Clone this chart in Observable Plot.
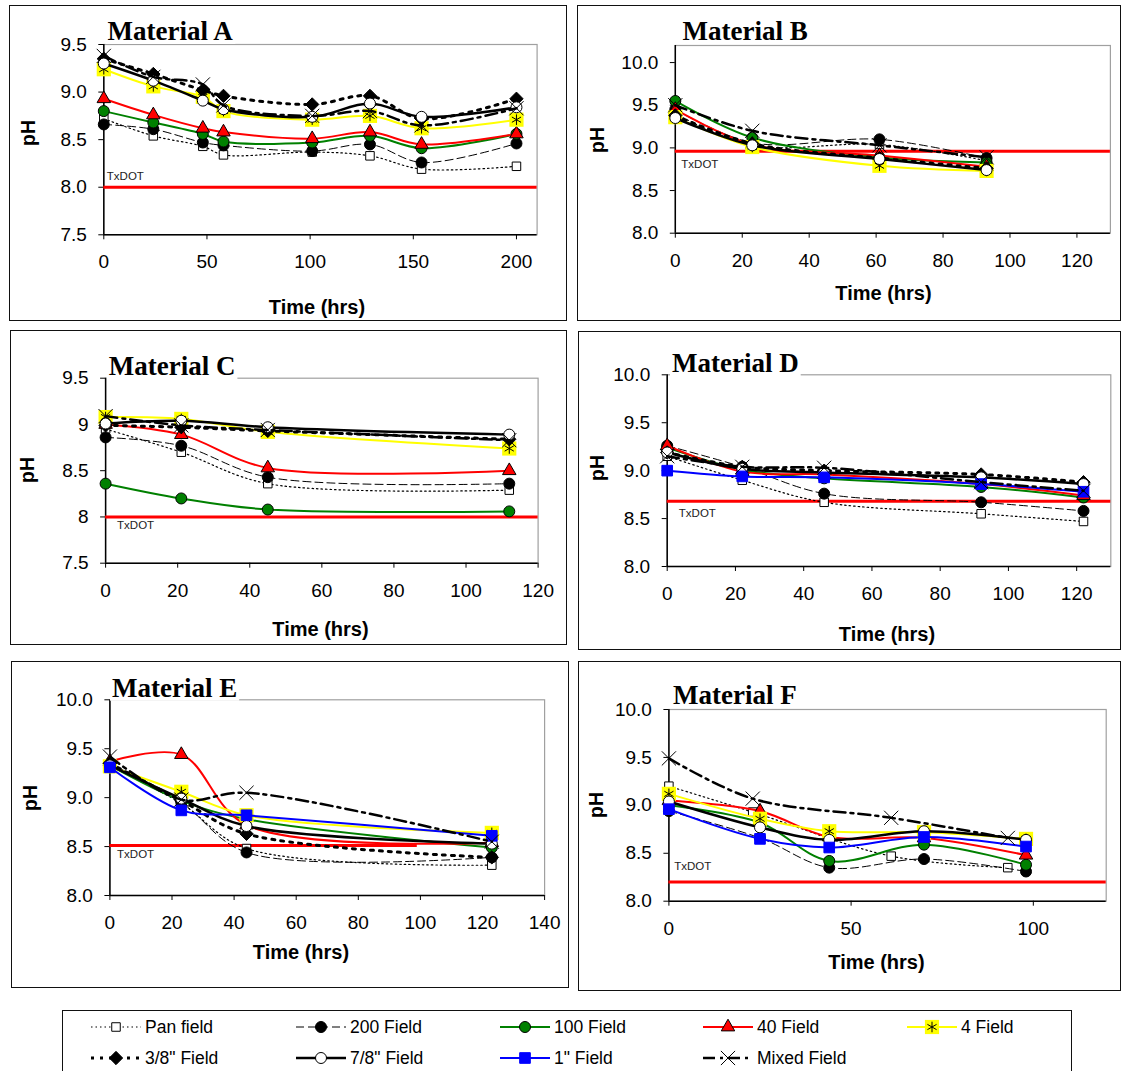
<!DOCTYPE html>
<html>
<head>
<meta charset="utf-8">
<script src="https://cdn.jsdelivr.net/npm/d3@7"></script>
<script src="https://cdn.jsdelivr.net/npm/@observablehq/plot@0.6"></script>
<style>
  html, body { margin: 0; padding: 0; background: #fff; }
  body { width: 1124px; height: 1071px; position: relative; overflow: hidden;
         font-family: "Liberation Sans", Arial, sans-serif; }
  .box { position: absolute; border: 1.5px solid #111; box-sizing: border-box; }
  .chart { position: absolute; }
  #overlay { position: absolute; left: 0; top: 0; }
  #legend { position: absolute; left: 62px; top: 1010px; width: 1010px; height: 70px;
            border: 1.5px solid #111; box-sizing: border-box; }
  .legend-item { position: absolute; height: 22px; display: flex; align-items: center;
                 font-size: 17.5px; color: #000; white-space: nowrap; }
</style>
</head>
<body>
<script>
// ---------- Series names (legend order) ----------
const seriesNames = ["Pan field", "200 Field", "100 Field", "40 Field", "4 Field",
  '3/8" Field', '7/8" Field', '1" Field', "Mixed Field"];

// ---------- Material A ----------
const hoursA = [0, 24, 48, 58, 101, 129, 154, 200];
const pHA = {
  "Pan field":   [8.72, 8.54, 8.43, 8.34, 8.37, 8.33, 8.19, 8.22],
  "200 Field":   [8.66, 8.61, 8.47, 8.44, 8.38, 8.45, 8.26, 8.46],
  "100 Field":   [8.80, 8.68, 8.56, 8.48, 8.47, 8.54, 8.41, 8.56],
  "40 Field":    [8.93, 8.76, 8.62, 8.58, 8.51, 8.58, 8.45, 8.56],
  "4 Field":     [9.24, 9.06, 8.95, 8.80, 8.71, 8.75, 8.62, 8.71],
  '3/8" Field':  [9.35, 9.19, 9.02, 8.96, 8.87, 8.96, 8.72, 8.93],
  '7/8" Field':  [9.30, 9.12, 8.91, 8.82, 8.74, 8.88, 8.74, 8.84],
  "Mixed Field": [9.38, 9.16, 9.08, 8.86, 8.75, 8.80, 8.65, 8.83]
};

// ---------- Material B ----------
const hoursB = [0, 23, 61, 93];
const pHB = {
  "Pan field":   [9.40, 9.03, 9.04, 8.85],
  "200 Field":   [9.45, 9.06, 9.10, 8.88],
  "100 Field":   [9.55, 9.12, 8.89, 8.83],
  "40 Field":    [9.45, 9.04, 8.91, 8.78],
  "4 Field":     [9.36, 9.01, 8.79, 8.73],
  '3/8" Field':  [9.38, 9.05, 8.88, 8.76],
  '7/8" Field':  [9.35, 9.03, 8.87, 8.74],
  "Mixed Field": [9.50, 9.20, 9.03, 8.89]
};

// ---------- Material C ----------
const hoursC = [0, 21, 45, 112];
const pHC = {
  "Pan field":   [8.95, 8.70, 8.36, 8.29],
  "200 Field":   [8.86, 8.77, 8.43, 8.36],
  "100 Field":   [8.36, 8.20, 8.08, 8.06],
  "40 Field":    [9.00, 8.89, 8.53, 8.50],
  "4 Field":     [9.08, 9.06, 8.92, 8.74],
  '3/8" Field':  [8.99, 8.97, 8.93, 8.84],
  '7/8" Field':  [9.01, 9.04, 8.97, 8.89],
  "Mixed Field": [9.09, 8.99, 8.94, 8.83]
};

// ---------- Material D ----------
const hoursD = [0, 22, 46, 92, 122];
const pHD = {
  "Pan field":   [9.15, 8.90, 8.67, 8.55, 8.47],
  "200 Field":   [9.26, 9.04, 8.76, 8.67, 8.58],
  "100 Field":   [9.24, 9.01, 8.92, 8.83, 8.72],
  "40 Field":    [9.26, 8.99, 8.96, 8.86, 8.74],
  '3/8" Field':  [9.19, 9.04, 9.00, 8.96, 8.88],
  '7/8" Field':  [9.19, 9.02, 8.98, 8.93, 8.86],
  '1" Field':    [9.00, 8.94, 8.93, 8.86, 8.78],
  "Mixed Field": [9.15, 9.04, 9.03, 8.88, 8.79]
};

// ---------- Material E ----------
const hoursE = [0, 23, 44, 123];
const pHE = {
  "Pan field":   [9.33, 8.94, 8.48, 8.31],
  "200 Field":   [9.35, 8.95, 8.44, 8.39],
  "100 Field":   [9.33, 8.97, 8.78, 8.49],
  "40 Field":    [9.37, 9.44, 8.72, 8.54],
  "4 Field":     [9.32, 9.06, 8.82, 8.64],
  '3/8" Field':  [9.35, 8.97, 8.63, 8.39],
  '7/8" Field':  [9.33, 8.99, 8.71, 8.53],
  '1" Field':    [9.31, 8.87, 8.82, 8.61],
  "Mixed Field": [9.42, 8.98, 9.05, 8.55]
};

// ---------- Material F ----------
const hoursF = [0, 25, 44, 70, 98];
const hoursF_panMixed = [0, 23, 61, 93];
const pHF = {
  "Pan field":   [9.20, 8.93, 8.47, 8.35],
  "200 Field":   [8.94, 8.66, 8.35, 8.44, 8.31],
  "100 Field":   [9.00, 8.82, 8.42, 8.59, 8.38],
  "40 Field":    [9.05, 8.94, 8.67, 8.66, 8.48],
  "4 Field":     [9.12, 8.86, 8.73, 8.72, 8.65],
  '7/8" Field':  [9.04, 8.77, 8.64, 8.73, 8.64],
  '1" Field':    [8.96, 8.65, 8.56, 8.67, 8.57],
  "Mixed Field": [9.49, 9.07, 8.87, 8.66]
};

// ---------- TxDOT reference level per material ----------
const txdotPH  = { A: 8.0, B: 8.96, C: 8.0, D: 8.68, E: 8.51, F: 8.2 };
const txdotEnd = { A: 210, B: 130, C: 120, D: 130, E: 99, F: 120 };

// ---------- Series styling ----------
const seriesStyle = {
  "Pan field":   { color: "#000", width: 1.2, dash: "1.5,3", symbol: "square", r: 4.8, fill: "#fff", ms: "#000" },
  "200 Field":   { color: "#000", width: 1, dash: "8,4", symbol: "circle", r: 5.5, fill: "#000", ms: "#000" },
  "100 Field":   { color: "#008000", width: 2, symbol: "circle", r: 5.5, fill: "#008000", ms: "#000" },
  "40 Field":    { color: "#ff0000", width: 2, symbol: "triangle", r: 5, fill: "#ff0000", ms: "#000" },
  "4 Field":     { color: "#ffff00", width: 2, symbol: "asterisk", r: 5, fill: "none", ms: "#000", box: "#ffff00", boxR: 8 },
  '3/8" Field':  { color: "#000", width: 3, dash: "3,6", symbol: "diamond2", r: 6, fill: "#000", ms: "#000" },
  '7/8" Field':  { color: "#000", width: 2.5, symbol: "circle", r: 5.5, fill: "#fff", ms: "#000" },
  '1" Field':    { color: "#0000ff", width: 2, symbol: "square", r: 6, fill: "#0000ff", ms: "#0000ff" },
  "Mixed Field": { color: "#000", width: 2.5, dash: "12,5,3,5", symbol: "times", r: 6.5, fill: "none", ms: "#000" }
};

// ---------- Panel layout ----------
const fmt1 = d3.format(".1f");
const panels = [
  { key: "A", title: "Material A", hours: hoursA, pH: pHA,
    box: [9, 5, 567, 321], frame: [103.3, 44, 536.6, 234.3],
    x: [0, 210], y: [7.5, 9.5], xTicks: [0, 50, 100, 150, 200], yTicks: [7.5, 8, 8.5, 9, 9.5], yFormat: fmt1,
    txDx: 3, txDy: -10.7, titleXY: [107.6, 40], phXY: [28, 133], timeXY: [317, 307] },
  { key: "B", title: "Material B", hours: hoursB, pH: pHB,
    box: [577, 5, 1121, 321], frame: [674.8, 45, 1109.9, 232.7],
    x: [0, 130], y: [8, 10.2], xTicks: d3.range(0, 121, 20), yTicks: [8, 8.5, 9, 9.5, 10], yFormat: fmt1,
    txDx: 6, txDy: 13, titleXY: [682.5, 40], phXY: [597, 140], timeXY: [883.5, 293] },
  { key: "C", title: "Material C", hours: hoursC, pH: pHC,
    box: [10, 330, 567, 645], frame: [105.1, 377.7, 537.6, 562.7],
    x: [0, 120], y: [7.5, 9.5], xTicks: d3.range(0, 121, 20), yTicks: [7.5, 8, 8.5, 9, 9.5], yFormat: d => String(d),
    txDx: 11.5, txDy: 8, titleXY: [108.7, 375], phXY: [27, 470], timeXY: [320.5, 629] },
  { key: "D", title: "Material D", hours: hoursD, pH: pHD,
    box: [578, 331, 1121, 650], frame: [666.7, 374.3, 1110.3, 566],
    x: [0, 130], y: [8, 10], xTicks: d3.range(0, 121, 20), yTicks: [8, 8.5, 9, 9.5, 10], yFormat: fmt1,
    txDx: 11.6, txDy: 12, titleXY: [672, 372], phXY: [597, 468], timeXY: [887, 634] },
  { key: "E", title: "Material E", hours: hoursE, pH: pHE,
    box: [11, 661, 569, 988], frame: [109.4, 699.3, 544.1, 895],
    x: [0, 140], y: [8, 10], xTicks: d3.range(0, 141, 20), yTicks: [8, 8.5, 9, 9.5, 10], yFormat: fmt1,
    txDx: 7.2, txDy: 9, titleXY: [112, 696.7], phXY: [30, 798], timeXY: [301, 951.7] },
  { key: "F", title: "Material F", hours: hoursF, pH: pHF,
    hoursBy: { "Pan field": hoursF_panMixed, "Mixed Field": hoursF_panMixed },
    box: [578, 661, 1121, 991], frame: [668.4, 709, 1105.7, 900.7],
    x: [0, 120], y: [8, 10], xTicks: [0, 50, 100], yTicks: [8, 8.5, 9, 9.5, 10], yFormat: fmt1,
    txDx: 5.3, txDy: -16, titleXY: [673, 704], phXY: [596, 805], timeXY: [876.5, 962] }
];

function drawPanel(p) {
  const [bx0, by0, bx1, by1] = p.box;
  const [fx0, fy0, fx1, fy1] = p.frame;
  const marks = [
    Plot.frame({ stroke: "#a0a0a0", strokeWidth: 1.2 }),
    Plot.ruleY([p.y[0]], { stroke: "#000", strokeWidth: 1.5 }),
    Plot.ruleX([p.x[0]], { stroke: "#000", strokeWidth: 1.5 }),
    Plot.axisX({ ticks: p.xTicks, tickSize: 5, tickPadding: 15, label: null, fontSize: 19 }),
    Plot.axisY({ ticks: p.yTicks, tickFormat: p.yFormat, tickSize: 5, tickPadding: 12, label: null, fontSize: 19 })
  ];

  // TxDOT reference line and its label
  const tx = [{ pH: txdotPH[p.key], from: p.x[0], to: txdotEnd[p.key] }];
  marks.push(Plot.ruleY(tx, { y: "pH", x1: "from", x2: "to", stroke: "#ff0000", strokeWidth: 3 }));
  marks.push(Plot.text(tx, { x: "from", y: "pH", text: () => "TxDOT", textAnchor: "start",
    dx: p.txDx, dy: p.txDy, fontSize: 11.5, fill: "#222" }));

  for (const name of seriesNames) {
    const vals = p.pH[name];
    if (!vals) continue;
    const hrs = (p.hoursBy && p.hoursBy[name]) || p.hours;
    const rows = hrs.map((h, i) => ({ hours: h, pH: vals[i] }));
    const s = seriesStyle[name];
    marks.push(Plot.line(rows, { x: "hours", y: "pH", curve: "catmull-rom",
      stroke: s.color, strokeWidth: s.width, strokeDasharray: s.dash }));
    if (s.box) marks.push(Plot.dot(rows, { x: "hours", y: "pH", symbol: "square", r: s.boxR, fill: s.box }));
    marks.push(Plot.dot(rows, { x: "hours", y: "pH", symbol: s.symbol, r: s.r,
      fill: s.fill, stroke: s.ms, strokeWidth: 1 }));
  }

  const chart = Plot.plot({
    width: bx1 - bx0, height: by1 - by0,
    marginLeft: fx0 - bx0, marginRight: bx1 - fx1,
    marginTop: fy0 - by0, marginBottom: by1 - fy1,
    x: { domain: p.x },
    y: { domain: p.y },
    style: { fontFamily: '"Liberation Sans", Arial, sans-serif', fontSize: "19px",
             color: "#000", background: "transparent", overflow: "visible" },
    marks
  });
  chart.classList.add("chart");
  chart.style.left = bx0 + "px";
  chart.style.top = by0 + "px";
  document.body.appendChild(chart);

  const border = document.createElement("div");
  border.className = "box";
  Object.assign(border.style, { left: bx0 + "px", top: by0 + "px",
    width: (bx1 - bx0) + "px", height: (by1 - by0) + "px" });
  document.body.appendChild(border);
}

panels.forEach(drawPanel);

// ---------- Titles and axis labels ----------
const overlay = d3.select("body").append("svg").attr("id", "overlay")
  .attr("width", 1124).attr("height", 1071);

for (const p of panels) {
  const t = overlay.append("text")
    .attr("x", p.titleXY[0]).attr("y", p.titleXY[1])
    .attr("font-family", '"Liberation Serif", "Times New Roman", serif')
    .attr("font-weight", "bold").attr("font-size", 27).text(p.title);
  const bb = t.node().getBBox();
  overlay.insert("rect", () => t.node())
    .attr("x", bb.x - 2).attr("y", bb.y + 2).attr("width", bb.width + 4).attr("height", bb.height - 4)
    .attr("fill", "#fff");

  overlay.append("text")
    .attr("transform", `translate(${p.phXY[0]},${p.phXY[1]}) rotate(-90)`)
    .attr("text-anchor", "middle").attr("dominant-baseline", "central")
    .attr("font-family", '"Liberation Sans", Arial, sans-serif')
    .attr("font-weight", "bold").attr("font-size", 19.5).text("pH");

  overlay.append("text")
    .attr("x", p.timeXY[0]).attr("y", p.timeXY[1])
    .attr("text-anchor", "middle").attr("dominant-baseline", "central")
    .attr("font-family", '"Liberation Sans", Arial, sans-serif')
    .attr("font-weight", "bold").attr("font-size", 20).text("Time (hrs)");
}

// ---------- Legend ----------
const legend = d3.select("body").append("div").attr("id", "legend");
const legendCols = [27, 232, 436, 639, 843];   // sample left edge within the legend box
const legendRows = [5, 36];                    // item top within the legend box
seriesNames.forEach((name, i) => {
  const col = i < 5 ? i : i - 5;
  const row = i < 5 ? 0 : 1;
  const s = seriesStyle[name];
  const item = legend.append("div").attr("class", "legend-item")
    .style("left", legendCols[col] + "px").style("top", legendRows[row] + "px");
  const svg = item.append("svg").attr("width", 52).attr("height", 22).style("margin-right", "3px");
  svg.append("line").attr("x1", 1).attr("x2", 51).attr("y1", 11).attr("y2", 11)
    .attr("stroke", s.color).attr("stroke-width", s.width)
    .attr("stroke-dasharray", s.dash || null);
  const sym = { square: d3.symbolSquare, circle: d3.symbolCircle, triangle: d3.symbolTriangle,
    asterisk: d3.symbolAsterisk, diamond2: d3.symbolDiamond2, times: d3.symbolTimes };
  if (s.box) svg.append("path").attr("transform", "translate(26,11)")
    .attr("d", d3.symbol(d3.symbolSquare, Math.PI * s.boxR * s.boxR)()).attr("fill", s.box);
  svg.append("path").attr("transform", "translate(26,11)")
    .attr("d", d3.symbol(sym[s.symbol], Math.PI * s.r * s.r)())
    .attr("fill", s.fill).attr("stroke", s.ms).attr("stroke-width", 1);
  item.append("span").text(name);
});
</script>
</body>
</html>
